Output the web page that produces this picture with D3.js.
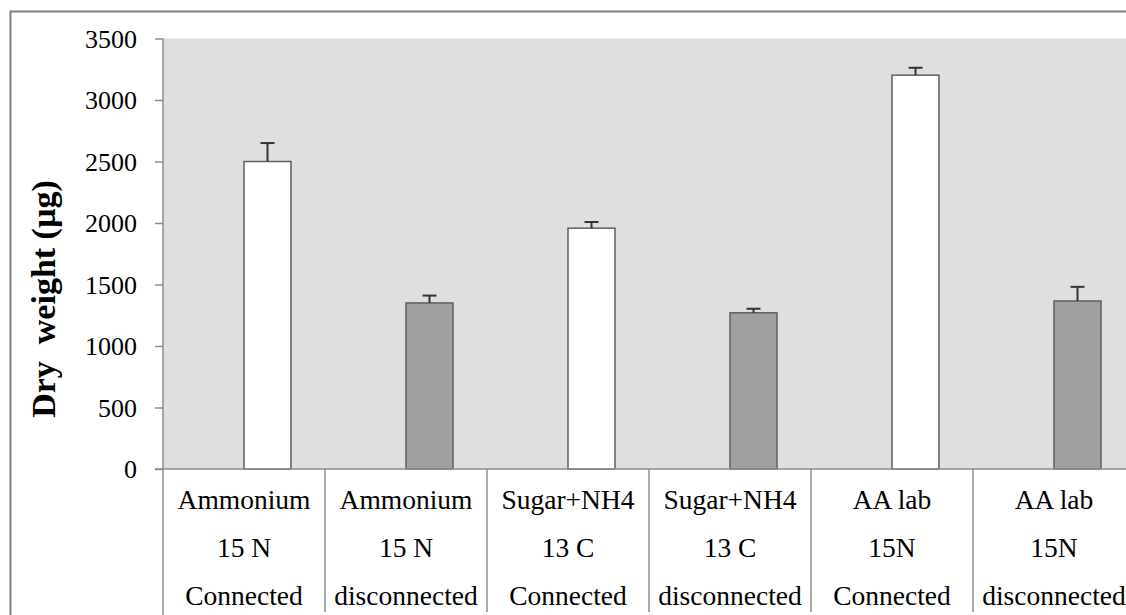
<!DOCTYPE html>
<html>
<head>
<meta charset="utf-8">
<script src="https://cdn.jsdelivr.net/npm/d3@7/dist/d3.min.js"></script>
<style>
  body { margin: 0; background: #fff; }
</style>
</head>
<body>
<div id="chart"></div>
<script>
// data
var line1 = ["Ammonium", "Ammonium", "Sugar+NH4", "Sugar+NH4", "AA lab", "AA lab"];
var line2 = ["15 N", "15 N", "13 C", "13 C", "15N", "15N"];
var line3 = ["Connected", "disconnected", "Connected", "disconnected", "Connected", "disconnected"];
var values = [2500, 1350, 1958, 1270, 3202, 1366];
var errors = [150, 60, 50, 33, 60, 115];
var connected = [true, false, true, false, true, false];
var yTicks = [0, 500, 1000, 1500, 2000, 2500, 3000, 3500];

var W = 1126, H = 615;
var plotLeft = 163, plotTop = 38.5, zeroY = 469;
var bandW = 162;
var serif = "'Liberation Serif', 'Times New Roman', Times, 'DejaVu Serif', serif";

var svg = d3.select("#chart").append("svg")
  .attr("width", W).attr("height", H)
  .attr("font-family", serif);

// outer frame (only top + left visible in the crop)
svg.append("path")
  .attr("d", "M10.5," + H + " V11.5 H" + W)
  .attr("fill", "none").attr("stroke", "#7f7f7f").attr("stroke-width", 2);

var idx = d3.range(values.length);

var x = d3.scaleBand()
  .domain(idx)
  .range([plotLeft, plotLeft + bandW * idx.length])
  .padding(0);

var y = d3.scaleLinear()
  .domain([0, 3500])
  .range([zeroY, plotTop]);

/* plot background */
svg.append("rect")
  .attr("x", plotLeft).attr("y", plotTop)
  .attr("width", W - plotLeft).attr("height", zeroY - plotTop)
  .attr("fill", "#dfdfdf");

/* bars */
var barW = 47;
svg.append("g").selectAll("rect")
  .data(idx)
  .enter().append("rect")
  .attr("x", i => x(i) + x.bandwidth() / 2)
  .attr("y", i => y(values[i]))
  .attr("width", barW)
  .attr("height", i => y(0) - y(values[i]))
  .attr("fill", i => connected[i] ? "#ffffff" : "#a0a0a0")
  .attr("stroke", "#5f5f5f")
  .attr("stroke-width", 1.5);

/* error bars */
var eb = svg.append("g").attr("stroke", "#333").attr("stroke-width", 2);
idx.forEach(function(i) {
  var cx = x(i) + x.bandwidth() / 2 + barW / 2;
  eb.append("line")
    .attr("x1", cx).attr("x2", cx)
    .attr("y1", y(values[i])).attr("y2", y(values[i] + errors[i]));
  eb.append("line")
    .attr("x1", cx - 7).attr("x2", cx + 7)
    .attr("y1", y(values[i] + errors[i])).attr("y2", y(values[i] + errors[i]));
});

/* y axis */
var yAxis = d3.axisLeft(y).tickValues(yTicks).tickFormat(d3.format("d"))
  .tickSize(8).tickPadding(18);
var ya = svg.append("g")
  .attr("transform", "translate(" + plotLeft + ",0)")
  .call(yAxis)
  .attr("font-family", serif)
  .attr("font-size", 26);
ya.select(".domain").remove();
ya.selectAll("line").attr("stroke", "#8c8c8c").attr("stroke-width", 1.5);
ya.selectAll("text").attr("fill", "#000").attr("dy", "0.33em");

svg.append("line")
  .attr("x1", plotLeft).attr("x2", plotLeft)
  .attr("y1", plotTop).attr("y2", H)
  .attr("stroke", "#8c8c8c").attr("stroke-width", 1.5);

/* x axis baseline and category separators */
svg.append("line")
  .attr("x1", plotLeft - 8).attr("x2", W)
  .attr("y1", zeroY).attr("y2", zeroY)
  .attr("stroke", "#8c8c8c").attr("stroke-width", 1.5);

svg.append("g").selectAll("line")
  .data(idx.slice(1))
  .enter().append("line")
  .attr("x1", i => x(i)).attr("x2", i => x(i))
  .attr("y1", zeroY).attr("y2", H - 3)
  .attr("stroke", "#8c8c8c").attr("stroke-width", 1.5);

/* category labels */
var lab = svg.append("g").attr("text-anchor", "middle")
  .attr("font-family", serif).attr("font-size", 27.5);
[line1, line2, line3].forEach(function(arr, r) {
  lab.selectAll(null)
    .data(idx)
    .enter().append("text")
    .attr("x", i => x(i) + x.bandwidth() / 2)
    .attr("y", 509 + r * 48)
    .text(i => arr[i]);
});

/* y axis title */
svg.append("text")
  .attr("transform", "translate(55,299) rotate(-90)")
  .attr("text-anchor", "middle")
  .attr("font-family", serif)
  .attr("font-size", 34)
  .attr("font-weight", "bold")
  .style("white-space", "pre")
  .text("Dry  weight (µg)");
</script>
</body>
</html>
